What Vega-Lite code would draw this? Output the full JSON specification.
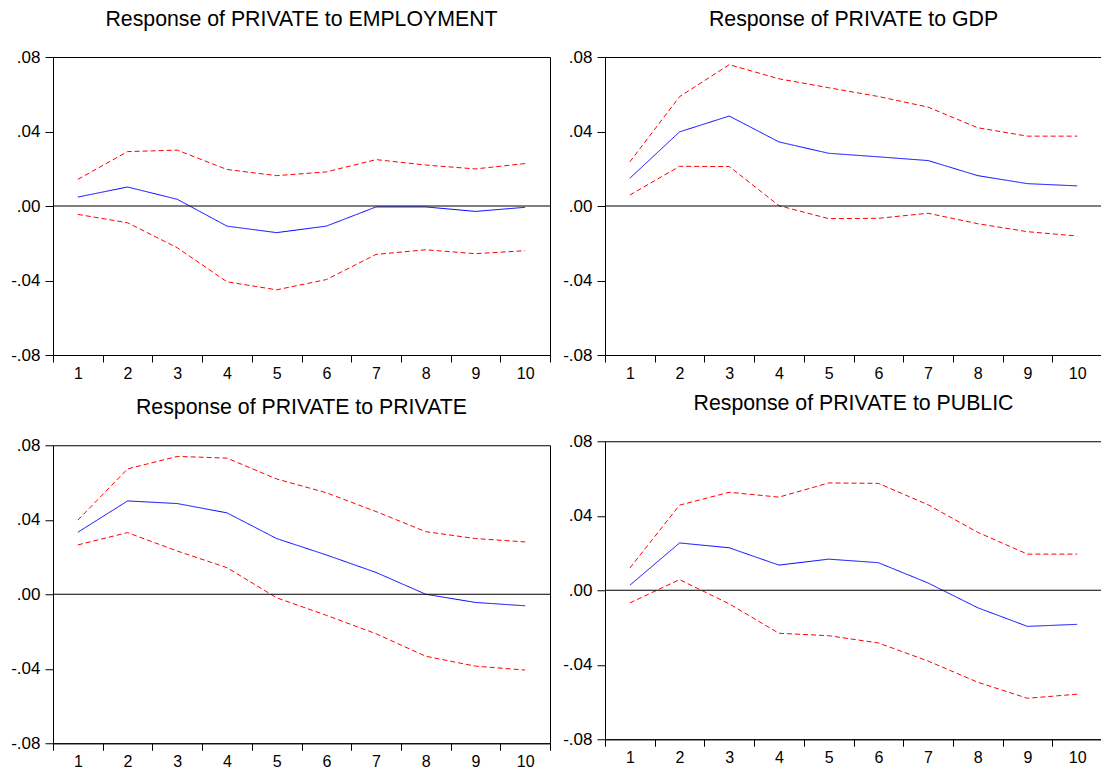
{
  "$schema": "https://vega.github.io/schema/vega-lite/v6.json",
  "padding": {"left": 5, "top": 8, "right": 0, "bottom": 0},
  "background": "white",
  "datasets": {
    "irf": [
      {"panel": "EMPLOYMENT", "step": 1, "response": 0.0048, "upper": 0.0143, "lower": -0.0045},
      {"panel": "EMPLOYMENT", "step": 2, "response": 0.0102, "upper": 0.0292, "lower": -0.0090},
      {"panel": "EMPLOYMENT", "step": 3, "response": 0.0036, "upper": 0.0300, "lower": -0.0224},
      {"panel": "EMPLOYMENT", "step": 4, "response": -0.0108, "upper": 0.0196, "lower": -0.0407},
      {"panel": "EMPLOYMENT", "step": 5, "response": -0.0143, "upper": 0.0163, "lower": -0.0450},
      {"panel": "EMPLOYMENT", "step": 6, "response": -0.0108, "upper": 0.0183, "lower": -0.0395},
      {"panel": "EMPLOYMENT", "step": 7, "response": -0.0005, "upper": 0.0249, "lower": -0.0260},
      {"panel": "EMPLOYMENT", "step": 8, "response": -0.0005, "upper": 0.0220, "lower": -0.0235},
      {"panel": "EMPLOYMENT", "step": 9, "response": -0.0029, "upper": 0.0199, "lower": -0.0256},
      {"panel": "EMPLOYMENT", "step": 10, "response": -0.0007, "upper": 0.0228, "lower": -0.0240},
      {"panel": "GDP", "step": 1, "response": 0.0149, "upper": 0.0237, "lower": 0.0059},
      {"panel": "GDP", "step": 2, "response": 0.0398, "upper": 0.0587, "lower": 0.0213},
      {"panel": "GDP", "step": 3, "response": 0.0483, "upper": 0.0759, "lower": 0.0212},
      {"panel": "GDP", "step": 4, "response": 0.0344, "upper": 0.0683, "lower": 0.0002},
      {"panel": "GDP", "step": 5, "response": 0.0283, "upper": 0.0635, "lower": -0.0068},
      {"panel": "GDP", "step": 6, "response": 0.0264, "upper": 0.0588, "lower": -0.0066},
      {"panel": "GDP", "step": 7, "response": 0.0244, "upper": 0.0531, "lower": -0.0039},
      {"panel": "GDP", "step": 8, "response": 0.0163, "upper": 0.0420, "lower": -0.0095},
      {"panel": "GDP", "step": 9, "response": 0.0120, "upper": 0.0375, "lower": -0.0138},
      {"panel": "GDP", "step": 10, "response": 0.0108, "upper": 0.0375, "lower": -0.0161},
      {"panel": "PRIVATE", "step": 1, "response": 0.0333, "upper": 0.0398, "lower": 0.0265},
      {"panel": "PRIVATE", "step": 2, "response": 0.0501, "upper": 0.0673, "lower": 0.0331},
      {"panel": "PRIVATE", "step": 3, "response": 0.0487, "upper": 0.0740, "lower": 0.0232},
      {"panel": "PRIVATE", "step": 4, "response": 0.0437, "upper": 0.0731, "lower": 0.0143},
      {"panel": "PRIVATE", "step": 5, "response": 0.0299, "upper": 0.0619, "lower": -0.0019},
      {"panel": "PRIVATE", "step": 6, "response": 0.0211, "upper": 0.0545, "lower": -0.0113},
      {"panel": "PRIVATE", "step": 7, "response": 0.0117, "upper": 0.0444, "lower": -0.0212},
      {"panel": "PRIVATE", "step": 8, "response": 0.0000, "upper": 0.0336, "lower": -0.0333},
      {"panel": "PRIVATE", "step": 9, "response": -0.0044, "upper": 0.0299, "lower": -0.0386},
      {"panel": "PRIVATE", "step": 10, "response": -0.0062, "upper": 0.0281, "lower": -0.0407},
      {"panel": "PUBLIC", "step": 1, "response": 0.0027, "upper": 0.0119, "lower": -0.0068},
      {"panel": "PUBLIC", "step": 2, "response": 0.0254, "upper": 0.0457, "lower": 0.0057},
      {"panel": "PUBLIC", "step": 3, "response": 0.0228, "upper": 0.0526, "lower": -0.0073},
      {"panel": "PUBLIC", "step": 4, "response": 0.0135, "upper": 0.0500, "lower": -0.0231},
      {"panel": "PUBLIC", "step": 5, "response": 0.0167, "upper": 0.0576, "lower": -0.0244},
      {"panel": "PUBLIC", "step": 6, "response": 0.0148, "upper": 0.0574, "lower": -0.0283},
      {"panel": "PUBLIC", "step": 7, "response": 0.0039, "upper": 0.0459, "lower": -0.0380},
      {"panel": "PUBLIC", "step": 8, "response": -0.0094, "upper": 0.0311, "lower": -0.0494},
      {"panel": "PUBLIC", "step": 9, "response": -0.0194, "upper": 0.0194, "lower": -0.0580},
      {"panel": "PUBLIC", "step": 10, "response": -0.0183, "upper": 0.0194, "lower": -0.0558}
    ]
  },
  "vconcat": [
    {
      "hconcat": [
        {
          "width": 497, "height": 298,
          "title": "Response of PRIVATE to EMPLOYMENT",
          "layer": [
            {
              "data": {"name": "irf"},
              "transform": [{"filter": "datum.panel === 'EMPLOYMENT'"}, {"fold": ["upper", "lower", "response"], "as": ["series", "value"]}],
              "mark": {"type": "line", "strokeWidth": 1},
              "encoding": {
                "x": {"field": "step", "type": "quantitative", "scale": {"domain": [0.5, 10.5], "nice": false, "zero": false},
                      "axis": {"title": null, "values": [0.5, 1.5, 2.5, 3.5, 4.5, 5.5, 6.5, 7.5, 8.5, 9.5, 10.5], "labelExpr": "datum.value > 1 ? format(datum.value - 0.5, 'd') : ''", "labelOffset": -24.85, "labelFlush": false, "labelOverlap": false, "labelPadding": 3, "minExtent": 28, "maxExtent": 28}},
                "y": {"field": "value", "type": "quantitative", "scale": {"domain": [-0.08, 0.08], "nice": false, "zero": false},
                      "axis": {"title": null, "values": [-0.08, -0.04, 0, 0.04, 0.08], "labelExpr": "datum.value === 0 ? '.00' : (datum.value < 0 ? '-.0' : '.0') + abs(round(datum.value * 100))", "minExtent": 47, "maxExtent": 47, "labelPadding": 5, "tickSize": 8, "labelFontSize": 17}},
                "color": {"field": "series", "type": "nominal", "scale": {"domain": ["response", "upper", "lower"], "range": ["#0000ff", "#ff0000", "#ff0000"]}, "legend": null},
                "strokeDash": {"field": "series", "type": "nominal", "scale": {"domain": ["response", "upper", "lower"], "range": [[1, 0], [5, 3], [5, 3]]}, "legend": null}
              }
            },
            {
              "data": {"values": [{"value": 0}]},
              "mark": {"type": "rule", "color": "black", "strokeWidth": 1},
              "encoding": {"y": {"field": "value", "type": "quantitative",
                      "axis": {"title": null, "values": [-0.08, -0.04, 0, 0.04, 0.08], "labelExpr": "datum.value === 0 ? '.00' : (datum.value < 0 ? '-.0' : '.0') + abs(round(datum.value * 100))", "minExtent": 47, "maxExtent": 47, "labelPadding": 5, "tickSize": 8, "labelFontSize": 17}}}
            }
          ]
        },
        {
          "width": 497, "height": 298,
          "title": "Response of PRIVATE to GDP",
          "layer": [
            {
              "data": {"name": "irf"},
              "transform": [{"filter": "datum.panel === 'GDP'"}, {"fold": ["upper", "lower", "response"], "as": ["series", "value"]}],
              "mark": {"type": "line", "strokeWidth": 1},
              "encoding": {
                "x": {"field": "step", "type": "quantitative", "scale": {"domain": [0.5, 10.5], "nice": false, "zero": false},
                      "axis": {"title": null, "values": [0.5, 1.5, 2.5, 3.5, 4.5, 5.5, 6.5, 7.5, 8.5, 9.5, 10.5], "labelExpr": "datum.value > 1 ? format(datum.value - 0.5, 'd') : ''", "labelOffset": -24.85, "labelFlush": false, "labelOverlap": false, "labelPadding": 3, "minExtent": 28, "maxExtent": 28}},
                "y": {"field": "value", "type": "quantitative", "scale": {"domain": [-0.08, 0.08], "nice": false, "zero": false},
                      "axis": {"title": null, "values": [-0.08, -0.04, 0, 0.04, 0.08], "labelExpr": "datum.value === 0 ? '.00' : (datum.value < 0 ? '-.0' : '.0') + abs(round(datum.value * 100))", "minExtent": 47, "maxExtent": 47, "labelPadding": 5, "tickSize": 8, "labelFontSize": 17}},
                "color": {"field": "series", "type": "nominal", "scale": {"domain": ["response", "upper", "lower"], "range": ["#0000ff", "#ff0000", "#ff0000"]}, "legend": null},
                "strokeDash": {"field": "series", "type": "nominal", "scale": {"domain": ["response", "upper", "lower"], "range": [[1, 0], [5, 3], [5, 3]]}, "legend": null}
              }
            },
            {
              "data": {"values": [{"value": 0}]},
              "mark": {"type": "rule", "color": "black", "strokeWidth": 1},
              "encoding": {"y": {"field": "value", "type": "quantitative",
                      "axis": {"title": null, "values": [-0.08, -0.04, 0, 0.04, 0.08], "labelExpr": "datum.value === 0 ? '.00' : (datum.value < 0 ? '-.0' : '.0') + abs(round(datum.value * 100))", "minExtent": 47, "maxExtent": 47, "labelPadding": 5, "tickSize": 8, "labelFontSize": 17}}}
            }
          ]
        }
      ],
      "spacing": 6
    },
    {
      "hconcat": [
        {
          "width": 497, "height": 298,
          "title": "Response of PRIVATE to PRIVATE",
          "layer": [
            {
              "data": {"name": "irf"},
              "transform": [{"filter": "datum.panel === 'PRIVATE'"}, {"fold": ["upper", "lower", "response"], "as": ["series", "value"]}],
              "mark": {"type": "line", "strokeWidth": 1},
              "encoding": {
                "x": {"field": "step", "type": "quantitative", "scale": {"domain": [0.5, 10.5], "nice": false, "zero": false},
                      "axis": {"title": null, "values": [0.5, 1.5, 2.5, 3.5, 4.5, 5.5, 6.5, 7.5, 8.5, 9.5, 10.5], "labelExpr": "datum.value > 1 ? format(datum.value - 0.5, 'd') : ''", "labelOffset": -24.85, "labelFlush": false, "labelOverlap": false, "labelPadding": 3, "minExtent": 28, "maxExtent": 28}},
                "y": {"field": "value", "type": "quantitative", "scale": {"domain": [-0.08, 0.08], "nice": false, "zero": false},
                      "axis": {"title": null, "values": [-0.08, -0.04, 0, 0.04, 0.08], "labelExpr": "datum.value === 0 ? '.00' : (datum.value < 0 ? '-.0' : '.0') + abs(round(datum.value * 100))", "minExtent": 47, "maxExtent": 47, "labelPadding": 5, "tickSize": 8, "labelFontSize": 17}},
                "color": {"field": "series", "type": "nominal", "scale": {"domain": ["response", "upper", "lower"], "range": ["#0000ff", "#ff0000", "#ff0000"]}, "legend": null},
                "strokeDash": {"field": "series", "type": "nominal", "scale": {"domain": ["response", "upper", "lower"], "range": [[1, 0], [5, 3], [5, 3]]}, "legend": null}
              }
            },
            {
              "data": {"values": [{"value": 0}]},
              "mark": {"type": "rule", "color": "black", "strokeWidth": 1},
              "encoding": {"y": {"field": "value", "type": "quantitative",
                      "axis": {"title": null, "values": [-0.08, -0.04, 0, 0.04, 0.08], "labelExpr": "datum.value === 0 ? '.00' : (datum.value < 0 ? '-.0' : '.0') + abs(round(datum.value * 100))", "minExtent": 47, "maxExtent": 47, "labelPadding": 5, "tickSize": 8, "labelFontSize": 17}}}
            }
          ]
        },
        {
          "width": 497, "height": 298,
          "title": "Response of PRIVATE to PUBLIC",
          "layer": [
            {
              "data": {"name": "irf"},
              "transform": [{"filter": "datum.panel === 'PUBLIC'"}, {"fold": ["upper", "lower", "response"], "as": ["series", "value"]}],
              "mark": {"type": "line", "strokeWidth": 1},
              "encoding": {
                "x": {"field": "step", "type": "quantitative", "scale": {"domain": [0.5, 10.5], "nice": false, "zero": false},
                      "axis": {"title": null, "values": [0.5, 1.5, 2.5, 3.5, 4.5, 5.5, 6.5, 7.5, 8.5, 9.5, 10.5], "labelExpr": "datum.value > 1 ? format(datum.value - 0.5, 'd') : ''", "labelOffset": -24.85, "labelFlush": false, "labelOverlap": false, "labelPadding": 3, "minExtent": 36, "maxExtent": 36}},
                "y": {"field": "value", "type": "quantitative", "scale": {"domain": [-0.08, 0.08], "nice": false, "zero": false},
                      "axis": {"title": null, "values": [-0.08, -0.04, 0, 0.04, 0.08], "labelExpr": "datum.value === 0 ? '.00' : (datum.value < 0 ? '-.0' : '.0') + abs(round(datum.value * 100))", "minExtent": 47, "maxExtent": 47, "labelPadding": 5, "tickSize": 8, "labelFontSize": 17}},
                "color": {"field": "series", "type": "nominal", "scale": {"domain": ["response", "upper", "lower"], "range": ["#0000ff", "#ff0000", "#ff0000"]}, "legend": null},
                "strokeDash": {"field": "series", "type": "nominal", "scale": {"domain": ["response", "upper", "lower"], "range": [[1, 0], [5, 3], [5, 3]]}, "legend": null}
              }
            },
            {
              "data": {"values": [{"value": 0}]},
              "mark": {"type": "rule", "color": "black", "strokeWidth": 1},
              "encoding": {"y": {"field": "value", "type": "quantitative",
                      "axis": {"title": null, "values": [-0.08, -0.04, 0, 0.04, 0.08], "labelExpr": "datum.value === 0 ? '.00' : (datum.value < 0 ? '-.0' : '.0') + abs(round(datum.value * 100))", "minExtent": 47, "maxExtent": 47, "labelPadding": 5, "tickSize": 8, "labelFontSize": 17}}}
            }
          ]
        }
      ],
      "spacing": 6,
      "center": true
    }
  ],
  "spacing": 8,
  "config": {
    "font": "Liberation Sans",
    "view": {"stroke": "black", "strokeWidth": 1},
    "axis": {"grid": false, "domainColor": "black", "tickColor": "black", "tickSize": 7, "labelColor": "black", "labelFont": "Liberation Sans", "labelFontSize": 16},
    "title": {"font": "Liberation Sans", "fontSize": 21.3, "fontWeight": "normal", "color": "black", "offset": 17.5}
  }
}
